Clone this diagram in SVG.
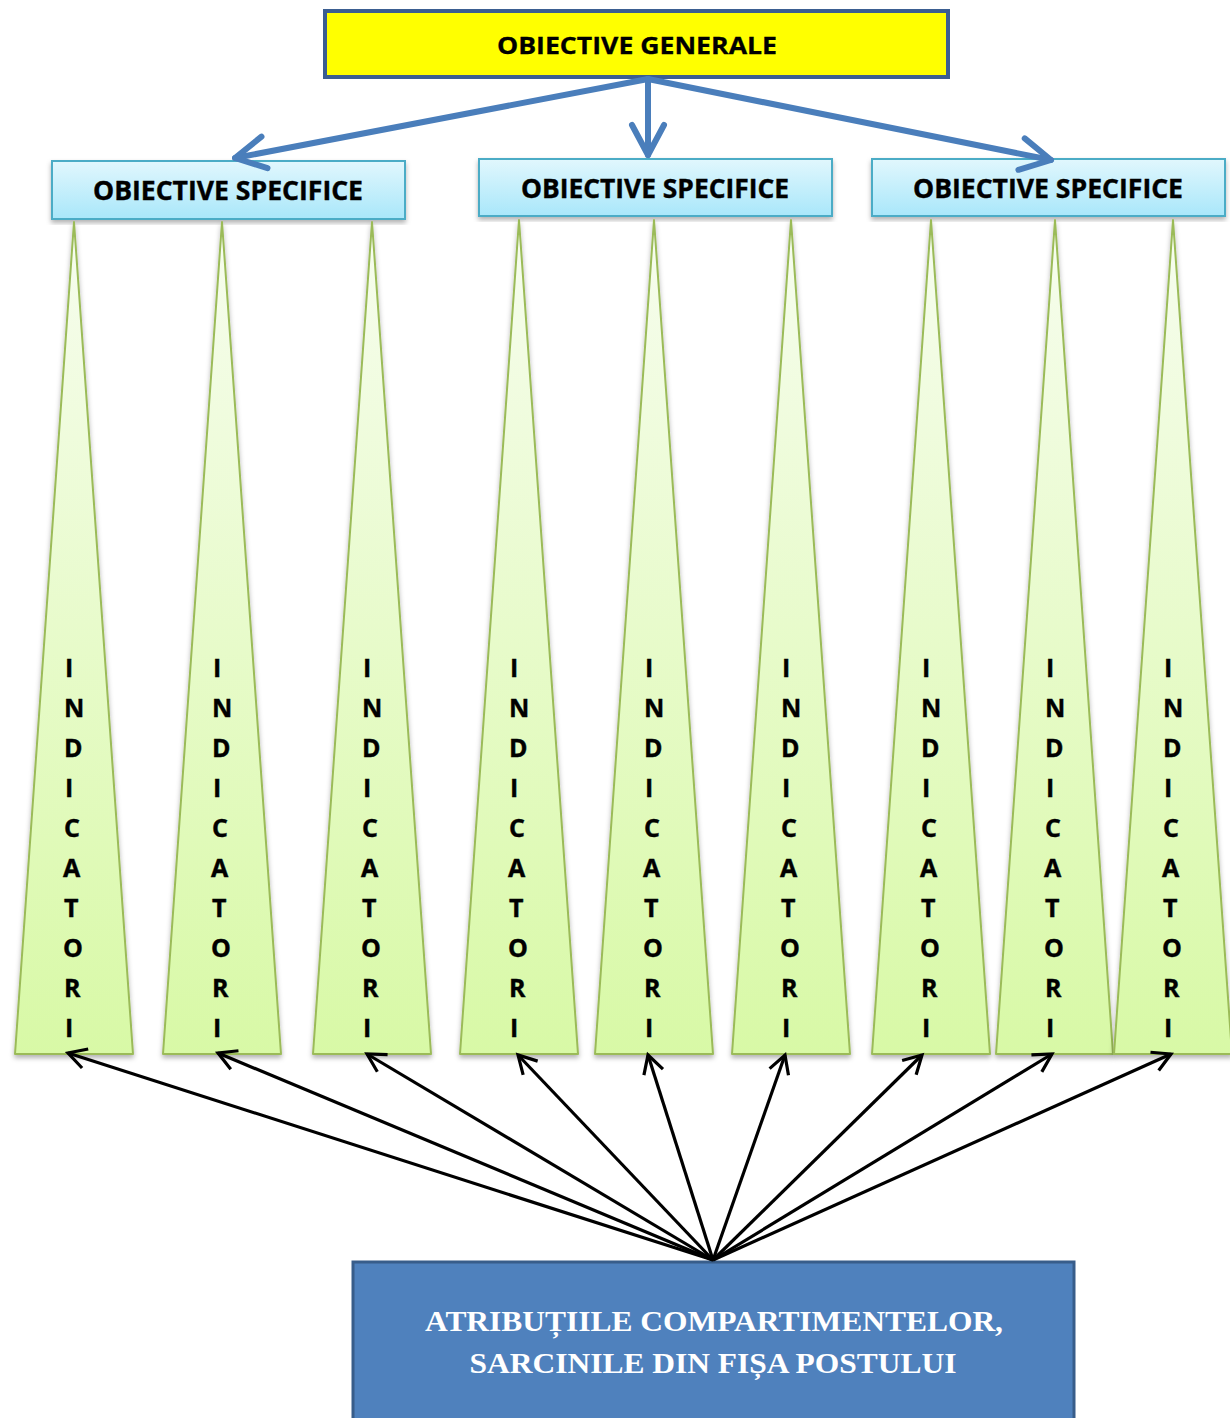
<svg xmlns="http://www.w3.org/2000/svg" width="1230" height="1418" viewBox="0 0 1230 1418">
<style>
.spec rect{fill:url(#gCyan);stroke:#4BACC6;stroke-width:2;filter:url(#sh)}
.spec text{font-family:"Open Sans","Liberation Sans",sans-serif;font-weight:bold;font-size:26px;fill:#000;text-anchor:middle;stroke:#000;stroke-width:0.4}
.tri polygon{fill:url(#gGreen);stroke:#9BBB59;stroke-width:2;stroke-linejoin:round;filter:url(#sh)}
.tri text{font-family:"Open Sans","Liberation Sans",sans-serif;font-weight:bold;font-size:25px;fill:#000;stroke:#000;stroke-width:0.4}
.blue{stroke:#4A7EBB;stroke-width:6;fill:none;stroke-linecap:round}
.blk{stroke:#000;stroke-width:3.2;fill:none}
</style>
<defs>
<linearGradient id="gCyan" x1="0" y1="0" x2="0" y2="1">
<stop offset="0" stop-color="#E1F7FD"/>
<stop offset="1" stop-color="#A9E7FA"/>
</linearGradient>
<linearGradient id="gGreen" x1="0" y1="0" x2="0" y2="1">
<stop offset="0" stop-color="#F7FDEF"/>
<stop offset="1" stop-color="#D8F9A6"/>
</linearGradient>
<filter id="sh" x="-20%" y="-5%" width="140%" height="115%">
<feDropShadow dx="0" dy="3" stdDeviation="2.5" flood-color="#000" flood-opacity="0.3"/>
</filter>
<marker id="ab" markerUnits="userSpaceOnUse" markerWidth="40" markerHeight="40" viewBox="-36 -20 40 40" refX="0" refY="0" orient="auto">
<path d="M -30 -16 L 0 0 L -30 16" fill="none" stroke="#4A7EBB" stroke-width="6" stroke-linecap="round" stroke-linejoin="round"/>
</marker>
<marker id="ak" markerUnits="userSpaceOnUse" markerWidth="30" markerHeight="30" viewBox="-22 -15 30 30" refX="0" refY="0" orient="auto">
<path d="M -18 -10 L 0 0 L -18 10" fill="none" stroke="#000" stroke-width="3.2" stroke-linejoin="miter"/>
</marker>
</defs>
<rect width="1230" height="1418" fill="#fff"/>

<g id="general">
<rect x="325" y="11" width="623" height="66" fill="#FFFF00" stroke="#3B5E91" stroke-width="4"/>
<text x="637" y="54" font-family="'Open Sans','Liberation Sans',sans-serif" font-weight="bold" font-size="24" text-anchor="middle" stroke="#000" stroke-width="0.3" textLength="280" lengthAdjust="spacingAndGlyphs">OBIECTIVE GENERALE</text>
</g>

<g id="spec1" class="spec"><rect x="52" y="161" width="353" height="58"/><text x="228" y="200" textLength="270" lengthAdjust="spacingAndGlyphs">OBIECTIVE SPECIFICE</text></g>
<g id="spec2" class="spec"><rect x="479" y="159" width="353" height="57"/><text x="655" y="198" textLength="268" lengthAdjust="spacingAndGlyphs">OBIECTIVE SPECIFICE</text></g>
<g id="spec3" class="spec"><rect x="872" y="159" width="353" height="57"/><text x="1048" y="198" textLength="270" lengthAdjust="spacingAndGlyphs">OBIECTIVE SPECIFICE</text></g>

<g id="ind1" class="tri"><polygon points="74,222 133,1054 15,1054"/><text x="64" y="677"><tspan x="65">I</tspan><tspan x="64" dy="40">N</tspan><tspan x="64" dy="40">D</tspan><tspan x="65" dy="40">I</tspan><tspan x="64" dy="40">C</tspan><tspan x="63" dy="40">A</tspan><tspan x="64" dy="40">T</tspan><tspan x="63" dy="40">O</tspan><tspan x="64" dy="40">R</tspan><tspan x="65" dy="40">I</tspan></text></g>
<g id="ind2" class="tri"><polygon points="222,222 281,1054 163,1054"/><text x="212" y="677"><tspan x="213">I</tspan><tspan x="212" dy="40">N</tspan><tspan x="212" dy="40">D</tspan><tspan x="213" dy="40">I</tspan><tspan x="212" dy="40">C</tspan><tspan x="211" dy="40">A</tspan><tspan x="212" dy="40">T</tspan><tspan x="211" dy="40">O</tspan><tspan x="212" dy="40">R</tspan><tspan x="213" dy="40">I</tspan></text></g>
<g id="ind3" class="tri"><polygon points="372,222 431,1054 313,1054"/><text x="362" y="677"><tspan x="363">I</tspan><tspan x="362" dy="40">N</tspan><tspan x="362" dy="40">D</tspan><tspan x="363" dy="40">I</tspan><tspan x="362" dy="40">C</tspan><tspan x="361" dy="40">A</tspan><tspan x="362" dy="40">T</tspan><tspan x="361" dy="40">O</tspan><tspan x="362" dy="40">R</tspan><tspan x="363" dy="40">I</tspan></text></g>
<g id="ind4" class="tri"><polygon points="519,220 578,1054 460,1054"/><text x="509" y="677"><tspan x="510">I</tspan><tspan x="509" dy="40">N</tspan><tspan x="509" dy="40">D</tspan><tspan x="510" dy="40">I</tspan><tspan x="509" dy="40">C</tspan><tspan x="508" dy="40">A</tspan><tspan x="509" dy="40">T</tspan><tspan x="508" dy="40">O</tspan><tspan x="509" dy="40">R</tspan><tspan x="510" dy="40">I</tspan></text></g>
<g id="ind5" class="tri"><polygon points="654,220 713,1054 595,1054"/><text x="644" y="677"><tspan x="645">I</tspan><tspan x="644" dy="40">N</tspan><tspan x="644" dy="40">D</tspan><tspan x="645" dy="40">I</tspan><tspan x="644" dy="40">C</tspan><tspan x="643" dy="40">A</tspan><tspan x="644" dy="40">T</tspan><tspan x="643" dy="40">O</tspan><tspan x="644" dy="40">R</tspan><tspan x="645" dy="40">I</tspan></text></g>
<g id="ind6" class="tri"><polygon points="791,220 850,1054 732,1054"/><text x="781" y="677"><tspan x="782">I</tspan><tspan x="781" dy="40">N</tspan><tspan x="781" dy="40">D</tspan><tspan x="782" dy="40">I</tspan><tspan x="781" dy="40">C</tspan><tspan x="780" dy="40">A</tspan><tspan x="781" dy="40">T</tspan><tspan x="780" dy="40">O</tspan><tspan x="781" dy="40">R</tspan><tspan x="782" dy="40">I</tspan></text></g>
<g id="ind7" class="tri"><polygon points="931,220 990,1054 872,1054"/><text x="921" y="677"><tspan x="922">I</tspan><tspan x="921" dy="40">N</tspan><tspan x="921" dy="40">D</tspan><tspan x="922" dy="40">I</tspan><tspan x="921" dy="40">C</tspan><tspan x="920" dy="40">A</tspan><tspan x="921" dy="40">T</tspan><tspan x="920" dy="40">O</tspan><tspan x="921" dy="40">R</tspan><tspan x="922" dy="40">I</tspan></text></g>
<g id="ind8" class="tri"><polygon points="1055,220 1113,1054 996,1054"/><text x="1045" y="677"><tspan x="1046">I</tspan><tspan x="1045" dy="40">N</tspan><tspan x="1045" dy="40">D</tspan><tspan x="1046" dy="40">I</tspan><tspan x="1045" dy="40">C</tspan><tspan x="1044" dy="40">A</tspan><tspan x="1045" dy="40">T</tspan><tspan x="1044" dy="40">O</tspan><tspan x="1045" dy="40">R</tspan><tspan x="1046" dy="40">I</tspan></text></g>
<g id="ind9" class="tri"><polygon points="1173,220 1232,1054 1114,1054"/><text x="1163" y="677"><tspan x="1164">I</tspan><tspan x="1163" dy="40">N</tspan><tspan x="1163" dy="40">D</tspan><tspan x="1164" dy="40">I</tspan><tspan x="1163" dy="40">C</tspan><tspan x="1162" dy="40">A</tspan><tspan x="1163" dy="40">T</tspan><tspan x="1162" dy="40">O</tspan><tspan x="1163" dy="40">R</tspan><tspan x="1164" dy="40">I</tspan></text></g>

<g id="atributii">
<rect x="353" y="1262" width="721" height="170" fill="#4F81BD" stroke="#385D8A" stroke-width="3"/>
<text x="714" y="1331" font-family="'Liberation Serif','Times New Roman',serif" font-weight="bold" font-size="30" fill="#fff" text-anchor="middle" textLength="578" lengthAdjust="spacingAndGlyphs">ATRIBUȚIILE COMPARTIMENTELOR,</text>
<text x="713" y="1373" font-family="'Liberation Serif','Times New Roman',serif" font-weight="bold" font-size="30" fill="#fff" text-anchor="middle" textLength="487" lengthAdjust="spacingAndGlyphs">SARCINILE DIN FIȘA POSTULUI</text>
</g>

<g id="connectors">
<line class="blue" x1="648" y1="79" x2="235" y2="158" marker-end="url(#ab)"/>
<line class="blue" x1="648" y1="79" x2="648" y2="155" marker-end="url(#ab)"/>
<line class="blue" x1="648" y1="79" x2="1051" y2="160" marker-end="url(#ab)"/>
<line class="blk" x1="713" y1="1260" x2="68" y2="1053" marker-end="url(#ak)"/>
<line class="blk" x1="713" y1="1260" x2="218" y2="1053" marker-end="url(#ak)"/>
<line class="blk" x1="713" y1="1260" x2="367" y2="1054" marker-end="url(#ak)"/>
<line class="blk" x1="713" y1="1260" x2="518" y2="1055" marker-end="url(#ak)"/>
<line class="blk" x1="713" y1="1260" x2="648" y2="1055" marker-end="url(#ak)"/>
<line class="blk" x1="713" y1="1260" x2="785" y2="1055" marker-end="url(#ak)"/>
<line class="blk" x1="713" y1="1260" x2="922" y2="1055" marker-end="url(#ak)"/>
<line class="blk" x1="713" y1="1260" x2="1052" y2="1054" marker-end="url(#ak)"/>
<line class="blk" x1="713" y1="1260" x2="1171" y2="1054" marker-end="url(#ak)"/>
</g>
</svg>
